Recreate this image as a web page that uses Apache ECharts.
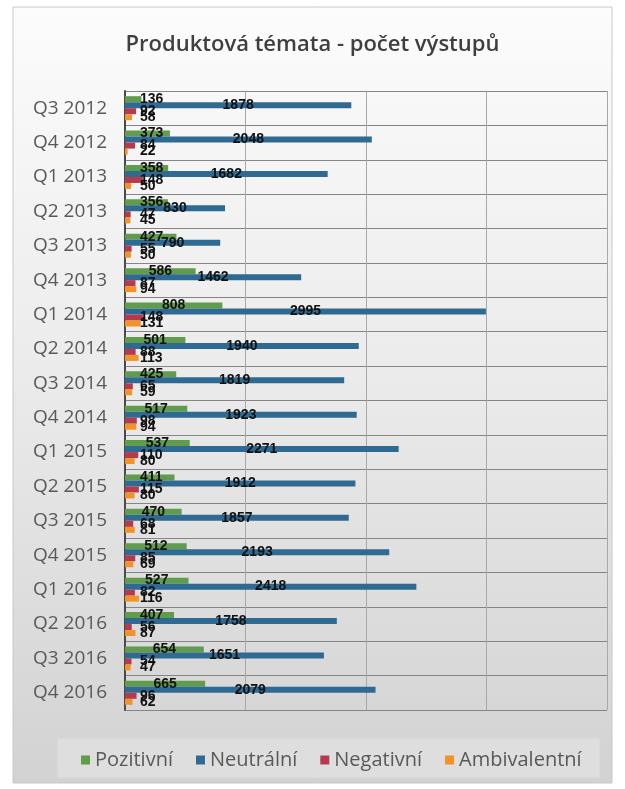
<!DOCTYPE html>
<html><head><meta charset="utf-8">
<script src="https://cdn.jsdelivr.net/npm/echarts@6/dist/echarts.min.js"></script>
<style>html,body{margin:0;padding:0;background:#fff}#c{width:625px;height:789px}</style>
</head><body><div id="c"></div><script>
const categories = ['Q3 2012','Q4 2012','Q1 2013','Q2 2013','Q3 2013','Q4 2013','Q1 2014','Q2 2014','Q3 2014','Q4 2014','Q1 2015','Q2 2015','Q3 2015','Q4 2015','Q1 2016','Q2 2016','Q3 2016','Q4 2016'];
const pozitivni = [136,373,358,356,427,586,808,501,425,517,537,411,470,512,527,407,654,665];
const neutralni = [1878,2048,1682,830,790,1462,2995,1940,1819,1923,2271,1912,1857,2193,2418,1758,1651,2079];
const negativni = [92,84,148,47,55,87,148,88,65,98,110,115,68,85,82,56,54,96];
const ambivalentni = [58,22,50,45,50,94,131,113,59,94,80,80,81,69,116,87,47,62];
const seriesNames = ['Pozitivní','Neutrální','Negativní','Ambivalentní'];
const seriesColors = ['#619b4c','#2f6a92','#b53a4e','#f29328'];
const xMin = 0, xMax = 4000, xInterval = 1000;

const chart = echarts.init(document.getElementById('c'), null, {renderer:'canvas'});
const allValues = [pozitivni, neutralni, negativni, ambivalentni];

function mkData(vals){
  return vals.map(v => v < 460
    ? {value: v, label: {position: [15, '50%'], align: 'left', verticalAlign: 'middle'}}
    : {value: v});
}

chart.setOption({
  animation: false,
  title: {
    text: 'Produktová témata - počet výstupů',
    left: 'center', top: 29,
    textStyle: {fontFamily: 'Open Sans', fontSize: 22, fontWeight: 600, color: '#3f3f3f'}
  },
  graphic: [
    {type: 'rect', z: -100, silent: true,
     shape: {x: 13, y: 7, width: 599, height: 776},
     style: {fill: {type: 'linear', x: 0, y: 0, x2: 0, y2: 1, colorStops: [
        {offset: 0, color: '#fcfcfc'}, {offset: 0.45, color: '#ececec'}, {offset: 1, color: '#d2d2d2'}]},
        stroke: '#c8c8c8', lineWidth: 1}},
    {type: 'rect', z: -90, silent: true,
     shape: {x: 57, y: 738, width: 543, height: 40},
     style: {fill: '#dedede', stroke: '#d6d6d6', lineWidth: 1}}
  ],
  legend: {
    data: seriesNames,
    left: 76, top: 745,
    icon: 'rect', itemWidth: 9, itemHeight: 9, itemGap: 23,
    textStyle: {fontFamily: 'Open Sans', fontSize: 20, color: '#595959'}
  },
  grid: {left: 125, right: 18, top: 91, bottom: 79, containLabel: false},
  xAxis: {
    type: 'value', min: xMin, max: xMax, interval: xInterval,
    axisLabel: {show: false}, axisTick: {show: false}, axisLine: {show: false},
    splitLine: {show: true, lineStyle: {color: '#a8a8a8', width: 1}}
  },
  yAxis: {
    type: 'category', data: categories, inverse: true,
    axisTick: {show: false},
    axisLine: {show: true, lineStyle: {color: '#4a4a4a', width: 2}},
    axisLabel: {fontFamily: 'Open Sans', fontSize: 19, color: '#595959', margin: 18},
    splitLine: {show: true, lineStyle: {color: '#858585', width: 1}}
  },
  series: seriesNames.map((name, i) => ({
    name, type: 'bar', data: mkData(allValues[i]),
    barWidth: 6, barGap: '0%',
    itemStyle: {color: seriesColors[i]},
    label: {show: true, position: 'inside', fontFamily: 'Liberation Sans', fontSize: 14, fontWeight: 'bold', color: '#111'}
  }))
});
</script></body></html>
